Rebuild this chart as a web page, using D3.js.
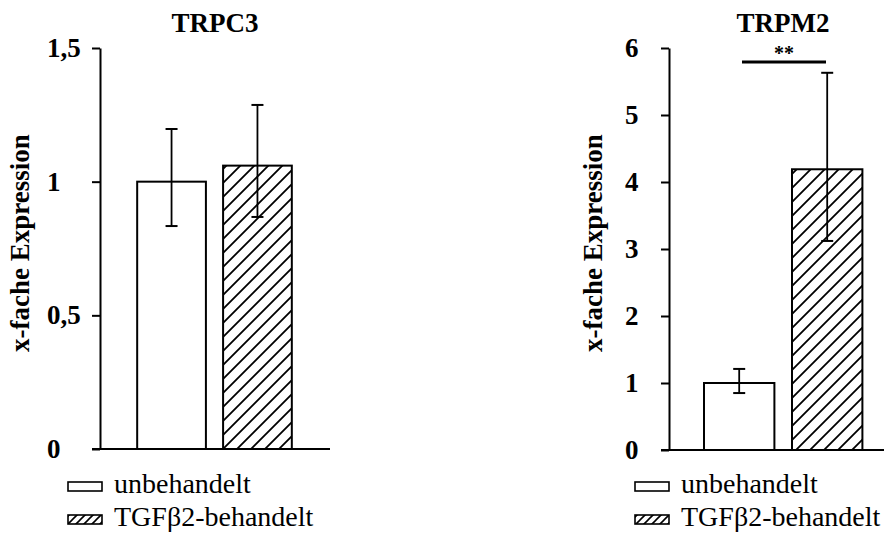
<!DOCTYPE html>
<html>
<head>
<meta charset="utf-8">
<script src="https://cdn.jsdelivr.net/npm/d3@7"></script>
<style>
  html, body { margin: 0; padding: 0; background: #fff; }
  svg { display: block; }
  text { font-family: "Liberation Serif", "Times New Roman", serif; fill: #000; }
</style>
</head>
<body>
<svg id="chart" width="884" height="533"></svg>
<script>
// Treatment groups (shared by both panels)
const groups = ["unbehandelt", "TGFβ2-behandelt"];

// TRPC3: mean fold expression with lower / upper error limits
const trpc3Mean = [1.0, 1.06];
const trpc3Low = [0.834, 0.868];
const trpc3High = [1.197, 1.287];
const trpc3Ticks = [0, 0.5, 1, 1.5];

// TRPM2: mean fold expression with lower / upper error limits
const trpm2Mean = [1.0, 4.19];
const trpm2Low = [0.85, 3.12];
const trpm2High = [1.21, 5.63];
const trpm2Ticks = [0, 1, 2, 3, 4, 5, 6];

const svg = d3.select("#chart");
const defs = svg.append("defs");

// diagonal hatching for the treated group
function hatch(id, step, sw) {
  const p = defs.append("pattern")
    .attr("id", id)
    .attr("patternUnits", "userSpaceOnUse")
    .attr("width", step).attr("height", step);
  p.append("rect").attr("width", step).attr("height", step).attr("fill", "#fff");
  p.append("path")
    .attr("d", `M${-step / 2},${step / 2} L${step / 2},${-step / 2} M0,${step} L${step},0 M${step / 2},${step * 1.5} L${step * 1.5},${step / 2}`)
    .attr("stroke", "#000").attr("stroke-width", sw);
}
hatch("hatchBar", 14, 1.8);
hatch("hatchKey", 8, 1.6);
const fills = ["#fff", "url(#hatchBar)"];
const keyFills = ["#fff", "url(#hatchKey)"];

const fmt = d => String(d).replace(".", ",");

function panel(cfg) {
  const g = svg.append("g");
  const y = d3.scaleLinear().domain([0, cfg.max]).range([cfg.y0, cfg.y1]);
  const x = d3.scaleBand().domain(groups).range(cfg.xRange)
    .paddingInner(0.2).paddingOuter(0.2);

  // title
  g.append("text")
    .attr("x", cfg.titleX).attr("y", 32)
    .attr("text-anchor", "middle")
    .attr("font-size", 27).attr("font-weight", "bold")
    .text(cfg.title);

  // y axis
  const axis = g.append("g")
    .attr("transform", `translate(${cfg.axisX},0)`)
    .call(d3.axisLeft(y).tickValues(cfg.ticks).tickSize(8).tickSizeOuter(0).tickFormat(fmt));
  axis.select(".domain").attr("stroke", "#000").attr("stroke-width", 2);
  axis.selectAll(".tick line").attr("stroke", "#000").attr("stroke-width", 2);
  axis.selectAll(".tick text")
    .attr("x", cfg.labelX - cfg.axisX)
    .attr("text-anchor", "start")
    .attr("font-family", "Liberation Serif, serif")
    .attr("font-size", 27).attr("font-weight", "bold");

  // y axis title
  g.append("text")
    .attr("transform", `translate(${cfg.yTitleX},243) rotate(-90)`)
    .attr("text-anchor", "middle")
    .attr("font-size", 27).attr("font-weight", "bold")
    .text("x-fache Expression");

  // bars
  g.selectAll("rect.bar").data(groups).join("rect")
    .attr("class", "bar")
    .attr("x", d => x(d))
    .attr("width", x.bandwidth())
    .attr("y", (d, i) => y(cfg.mean[i]))
    .attr("height", (d, i) => y(0) - y(cfg.mean[i]))
    .attr("fill", (d, i) => fills[i])
    .attr("stroke", "#000").attr("stroke-width", 2);

  // error bars
  const eb = g.selectAll("g.err").data(groups).join("g").attr("class", "err");
  eb.append("line")
    .attr("x1", d => x(d) + x.bandwidth() / 2).attr("x2", d => x(d) + x.bandwidth() / 2)
    .attr("y1", (d, i) => y(cfg.low[i])).attr("y2", (d, i) => y(cfg.high[i]))
    .attr("stroke", "#000").attr("stroke-width", 1.8);
  [cfg.low, cfg.high].forEach(lim => {
    eb.append("line")
      .attr("x1", d => x(d) + x.bandwidth() / 2 - 6).attr("x2", d => x(d) + x.bandwidth() / 2 + 6)
      .attr("y1", (d, i) => y(lim[i])).attr("y2", (d, i) => y(lim[i]))
      .attr("stroke", "#000").attr("stroke-width", 2);
  });

  // baseline
  g.append("line")
    .attr("x1", cfg.axisX - 8).attr("x2", cfg.baseEnd)
    .attr("y1", y(0)).attr("y2", y(0))
    .attr("stroke", "#000").attr("stroke-width", 2);

  // legend
  groups.forEach((d, i) => {
    const ky = 482 + i * 33;
    g.append("rect")
      .attr("x", cfg.keyX).attr("y", ky).attr("width", 34).attr("height", 9)
      .attr("fill", keyFills[i]).attr("stroke", "#000").attr("stroke-width", 1.6);
    g.append("text")
      .attr("x", cfg.keyX + 46).attr("y", ky + 11)
      .attr("font-size", 28)
      .text(d);
  });

  return { g, x, y };
}

panel({
  title: "TRPC3", titleX: 215, max: 1.5, y0: 449, y1: 48,
  xRange: [120, 309], axisX: 100, labelX: 47, yTitleX: 29, baseEnd: 330,
  ticks: trpc3Ticks, mean: trpc3Mean, low: trpc3Low, high: trpc3High, keyX: 68
});

const right = panel({
  title: "TRPM2", titleX: 783, max: 6, y0: 450, y1: 48,
  xRange: [686.4, 880], axisX: 669, labelX: 625, yTitleX: 602, baseEnd: 884,
  ticks: trpm2Ticks, mean: trpm2Mean, low: trpm2Low, high: trpm2High, keyX: 635
});

// significance bracket between the two TRPM2 groups
right.g.append("line")
  .attr("x1", 742).attr("x2", 826)
  .attr("y1", 62).attr("y2", 62)
  .attr("stroke", "#000").attr("stroke-width", 3);
right.g.append("text")
  .attr("x", 784).attr("y", 60)
  .attr("text-anchor", "middle")
  .attr("font-size", 20).attr("font-weight", "bold")
  .text("**");
</script>
</body>
</html>
